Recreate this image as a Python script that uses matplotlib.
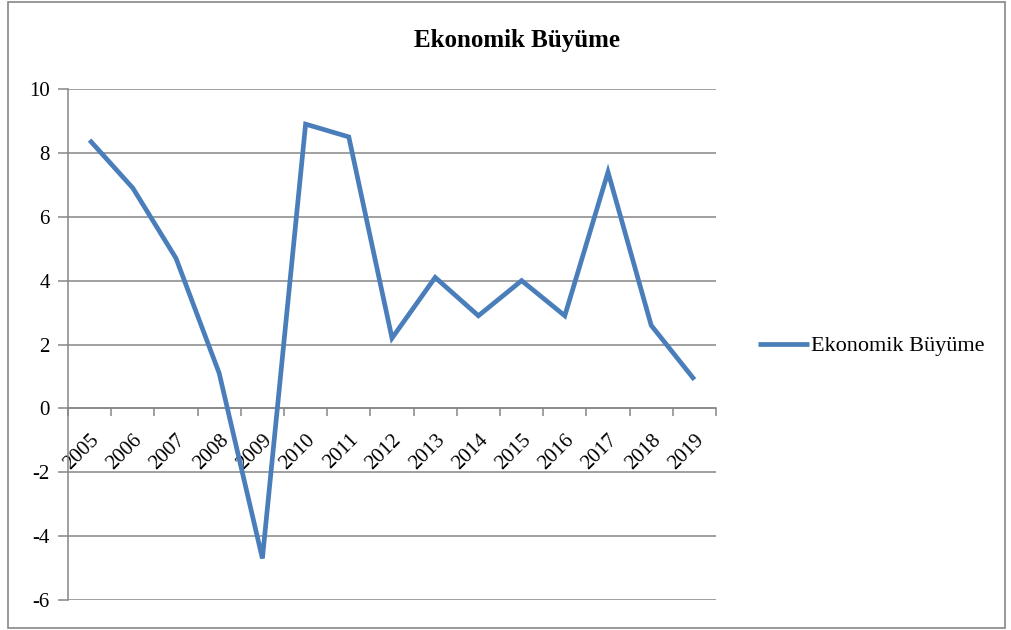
import matplotlib
matplotlib.use("Agg")
import matplotlib.pyplot as plt
from matplotlib.patches import Rectangle

# Data
years = ["2005", "2006", "2007", "2008", "2009", "2010", "2011", "2012",
         "2013", "2014", "2015", "2016", "2017", "2018", "2019"]
growth = [8.4, 6.9, 4.7, 1.1, -4.7, 8.9, 8.5, 2.2, 4.1, 2.9, 4.0, 2.9, 7.4, 2.6, 0.9]
yticks = [-6, -4, -2, 0, 2, 4, 6, 8, 10]
series_name = "Ekonomik Büyüme"

plt.rcParams["font.family"] = ["Liberation Serif", "DejaVu Serif"]
grid_color = "#868686"

fig = plt.figure(figsize=(10.11, 6.3), dpi=100)
ax = fig.add_axes([68 / 1011, 1 - 600 / 630, 648 / 1011, 511 / 630])

x = list(range(len(years)))
line, = ax.plot(x, growth, color="#4A7EBB", linewidth=3.4, solid_capstyle="butt",
                solid_joinstyle="miter", label=series_name, zorder=3)

ax.set_xlim(-0.5, len(years) - 0.5)
ax.set_ylim(-6, 10)
ax.set_yticks(yticks)
ax.set_yticklabels([str(v) for v in yticks], fontsize=15)
ax.yaxis.grid(True, color=grid_color, linewidth=1.1)
ax.tick_params(axis="y", length=7, width=1.1, color=grid_color, pad=6)

# category axis sits at y = 0, tick marks between categories
ax.spines["bottom"].set_position(("data", 0))
ax.spines["bottom"].set_color(grid_color)
ax.spines["bottom"].set_linewidth(1.1)
ax.spines["left"].set_color(grid_color)
ax.spines["left"].set_linewidth(1.1)
ax.spines["top"].set_visible(False)
ax.spines["right"].set_visible(False)

ax.set_xticks(x)
ax.set_xticklabels(years, rotation=45, ha="right", rotation_mode="anchor", fontsize=15)
ax.set_xticks([i - 0.5 for i in range(len(years) + 1)], minor=True)
ax.tick_params(axis="x", which="major", length=0, pad=16)
ax.tick_params(axis="x", which="minor", length=6, width=1.1, color=grid_color, direction="out")

fig.text(517 / 1011, 1 - 40 / 630, series_name, ha="center", va="center",
         fontsize=18, fontweight="bold")

leg = fig.legend(handles=[line], loc="center left", bbox_to_anchor=(738 / 1011, 1 - 346 / 630),
                 frameon=False, fontsize=16, handlelength=2.3, handletextpad=0.1)

fig.patches.append(Rectangle((8 / 1011, 2 / 630), 997 / 1011, 626 / 630,
                             transform=fig.transFigure, fill=False,
                             edgecolor=grid_color, linewidth=1.2))

fig.savefig("out.png", dpi=100)
